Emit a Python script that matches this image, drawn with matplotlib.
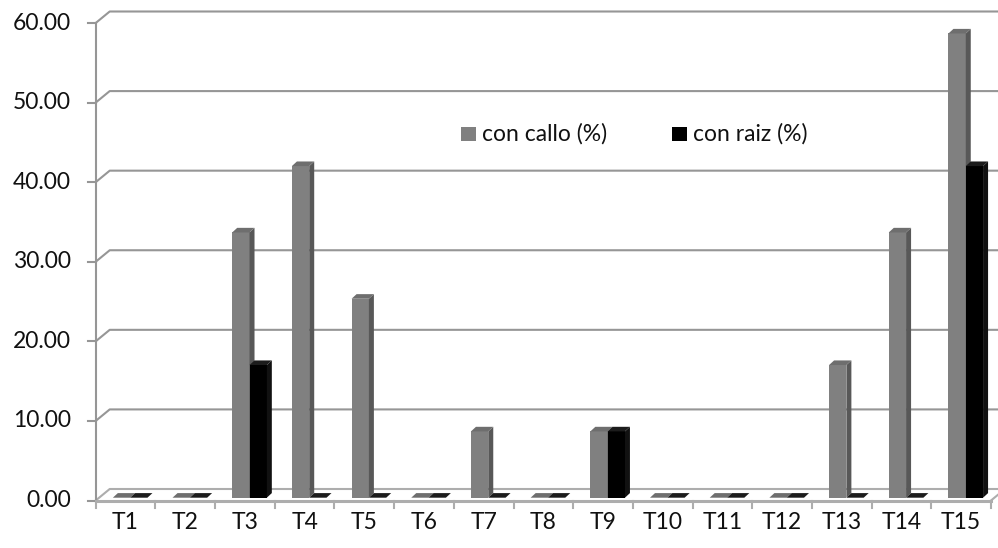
import matplotlib
matplotlib.use("Agg")
import matplotlib.pyplot as plt
from matplotlib.patches import Polygon
from matplotlib.transforms import IdentityTransform

# Data
categories = ["T1", "T2", "T3", "T4", "T5", "T6", "T7", "T8", "T9", "T10",
              "T11", "T12", "T13", "T14", "T15"]
callo = [0.00, 0.00, 33.33, 41.67, 25.00, 0.00, 8.33, 0.00, 8.33, 0.00,
         0.00, 0.00, 16.67, 33.33, 58.33]
raiz = [0.00, 0.00, 16.67, 0.00, 0.00, 0.00, 0.00, 0.00, 8.33, 0.00,
        0.00, 0.00, 0.00, 0.00, 41.67]
series_names = ["con callo (%)", "con raiz (%)"]
y_ticks = [0, 10, 20, 30, 40, 50, 60]

FONT = "Lato"
plt.rcParams["font.family"] = [FONT, "DejaVu Sans"]
FS = 16.5
TXT = "#111111"

W, H, DPI = 998, 548, 100
fig = plt.figure(figsize=(W / DPI, H / DPI), dpi=DPI)
fig.patch.set_facecolor("white")

# plot frame in pixels: x 95.7..991, y(zero)=500.5, y(60)=23
x0px, x1px = 95.7, 991.0
y0px, y1px = 500.5, 23.0
ax = fig.add_axes([x0px / W, (H - y0px) / H, (x1px - x0px) / W, (y0px - y1px) / H])
ax.set_xlim(0, len(categories))
ax.set_ylim(0, 60)
ax.axis("off")

grid_c = "#969696"
floor_c = "#adadad"
# depth of the back wall, in pixels
BDX, BDY = 14.0, 11.5


def disp(x, y):
    return ax.transData.transform((x, y))


def poly(points, **kw):
    p = Polygon(points, closed=True, transform=IdentityTransform(), clip_on=False, **kw)
    fig.add_artist(p)
    return p


def line(points, **kw):
    xs = [p[0] for p in points]
    ys = [p[1] for p in points]
    ln = plt.Line2D(xs, ys, transform=IdentityTransform(), clip_on=False, **kw)
    fig.add_artist(ln)


n = len(categories)

# floor
fl = disp(0, 0)
fr = disp(n, 0)
line([fl, (fl[0] + BDX, fl[1] + BDY), (fr[0] + BDX + 20, fr[1] + BDY)],
     color=floor_c, lw=1.5, zorder=2)
line([fr, (fr[0] + BDX, fr[1] + BDY)], color=floor_c, lw=1.5, zorder=2)

# gridlines on the back wall, with left-wall diagonals
for v in y_ticks[1:]:
    a = disp(0, v)
    b = disp(n, v)
    line([a, (a[0] + BDX, a[1] + BDY), (b[0] + BDX + 20, b[1] + BDY)],
         color=grid_c, lw=1.5, zorder=2)

# value axis
line([disp(0, 0), disp(0, 60)], color=grid_c, lw=1.5, zorder=6)
for v in y_ticks:
    a = disp(0, v)
    line([(a[0] - 7.5, a[1]), a], color=grid_c, lw=1.5, zorder=6)
    fig.text((a[0] - 24.5) / W, a[1] / H, f"{v:.2f}", ha="right", va="center",
             fontsize=FS, color=TXT)

# category axis (front floor edge)
line([disp(0, 0), disp(n, 0)], color=floor_c, lw=2.2, zorder=6)
for i in range(n + 1):
    a = disp(i, 0)
    line([a, (a[0], a[1] - 7.5)], color=floor_c, lw=1.5, zorder=6)
for i, c in enumerate(categories):
    a = disp(i + 0.5, 0)
    fig.text(a[0] / W, (a[1] - 22) / H, c, ha="center", va="center",
             fontsize=FS, color=TXT)

# bars
BW = 0.29            # width of each bar, in category units
FDX, FDY = 4.6, 2.8  # front faces sit slightly behind the floor edge
SDX, SDY = 5.0, 4.6  # bar depth
styles = [
    dict(front="#808080", side="#585858", top="#6e6e6e"),
    dict(front="#000000", side="#111111", top="#1c1c1c"),
]
for i in range(n):
    for s, vals in enumerate([callo, raiz]):
        v = vals[i]
        left = i + 0.5 - BW + s * BW
        pts = [disp(left, 0), disp(left + BW, 0), disp(left + BW, v), disp(left, v)]
        bl, br, tr, tl = [(p[0] + FDX, p[1] + FDY) for p in pts]
        st = styles[s]
        z = 3 + i * 0.01 + s * 0.001
        if v > 0:
            poly([bl, br, tr, tl], facecolor=st["front"], edgecolor="none", zorder=z)
            poly([br, (br[0] + SDX, br[1] + SDY), (tr[0] + SDX, tr[1] + SDY), tr],
                 facecolor=st["side"], edgecolor="none", zorder=z)
        poly([tl, tr, (tr[0] + SDX, tr[1] + SDY), (tl[0] + SDX, tl[1] + SDY)],
             facecolor=st["top"], edgecolor="none", zorder=z)

# legend
leg_items = [(461, "#808080", series_names[0]), (672, "#000000", series_names[1])]
for x, col, name in leg_items:
    y = H - 133.5
    fig.add_artist(plt.Rectangle((x, y - 7), 15, 14, transform=IdentityTransform(),
                                 facecolor=col, edgecolor="none"))
    fig.text((x + 21) / W, y / H, name, ha="left", va="center", fontsize=FS,
             color=TXT)

fig.savefig("out.png", dpi=DPI)
